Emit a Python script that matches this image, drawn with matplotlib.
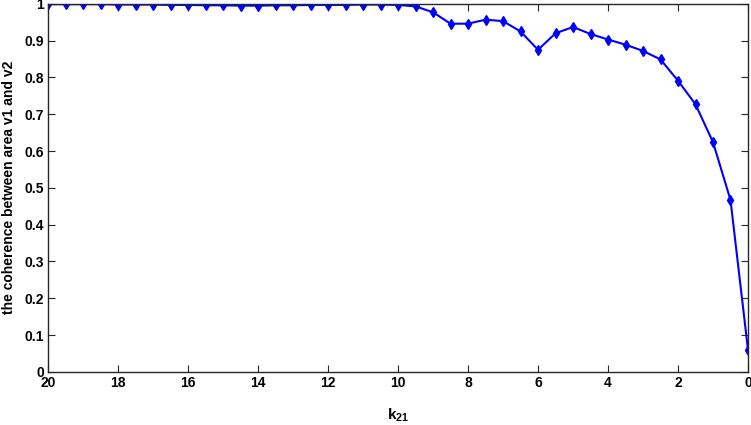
import matplotlib
matplotlib.use("Agg")
import matplotlib.pyplot as plt
import numpy as np

# k21 values (plotted on a reversed x axis)
k21 = np.arange(20, -0.01, -0.5)
coherence = [0.999, 0.999, 0.999, 0.999, 0.998, 0.998, 0.998, 0.997, 0.997, 0.996,
             0.996, 0.995, 0.995, 0.996, 0.996, 0.997, 0.997, 0.997, 0.998, 0.998,
             0.997, 0.993, 0.977, 0.946, 0.946, 0.957, 0.953, 0.925, 0.875, 0.920,
             0.937, 0.918, 0.903, 0.889, 0.872, 0.849, 0.791, 0.727, 0.624, 0.467,
             0.060]
xticks = [20, 18, 16, 14, 12, 10, 8, 6, 4, 2, 0]
yticks = [0, 0.1, 0.2, 0.3, 0.4, 0.5, 0.6, 0.7, 0.8, 0.9, 1]
ytick_labels = ['0', '0.1', '0.2', '0.3', '0.4', '0.5', '0.6', '0.7', '0.8', '0.9', '1']

plt.rcParams['font.family'] = ['Liberation Sans', 'DejaVu Sans']
plt.rcParams['font.weight'] = 'bold'
plt.rcParams['mathtext.fontset'] = 'custom'
plt.rcParams['mathtext.rm'] = 'Liberation Sans:bold'
plt.rcParams['mathtext.bf'] = 'Liberation Sans:bold'

fig = plt.figure(figsize=(7.51, 4.25), dpi=100)
ax = fig.add_axes([0.064, 0.125, 0.932, 0.866])
ax.plot(k21, coherence, color='blue', linewidth=1.5, marker='d', markersize=5.5)
ax.set_xlim(20, 0)
ax.set_ylim(0, 1)
ax.set_xticks(xticks)
ax.set_yticks(yticks)
ax.set_yticklabels(ytick_labels)
ax.tick_params(direction='in', top=True, right=True, labelsize=10, length=5,
               color='#262626', pad=3)
for s in ax.spines.values():
    s.set_color('#262626')
    s.set_linewidth(1.0)
ax.set_xlabel('k$_{\\mathbf{21}}$', fontsize=11, fontweight='bold', labelpad=12)
ax.set_ylabel('the coherence between area v1 and v2', fontsize=10, fontweight='bold', labelpad=6)

fig.savefig('out.png', dpi=100)
plt.close()
